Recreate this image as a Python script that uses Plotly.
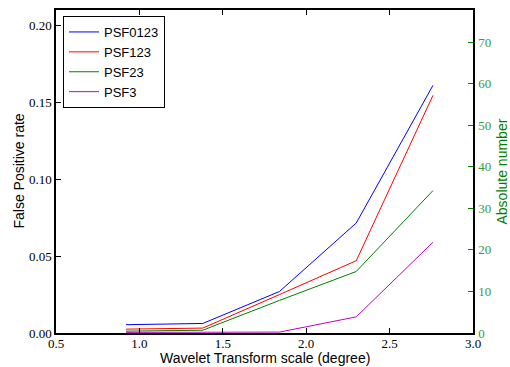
import plotly.graph_objects as go

scale = [0.92, 1.38, 1.84, 2.30, 2.76]
series_names = ["PSF0123", "PSF123", "PSF23", "PSF3"]
psf0123 = [0.0054, 0.0062, 0.0270, 0.0715, 0.1610]
psf123 = [0.0025, 0.0032, 0.0250, 0.0470, 0.1545]
psf23 = [0.0012, 0.0018, 0.0212, 0.0400, 0.0926]
psf3 = [0.0004, 0.0004, 0.0006, 0.0105, 0.0590]
colors = ["#0000ff", "#ff0000", "#008000", "#bf00bf"]

left_ticks = [0.00, 0.05, 0.10, 0.15, 0.20]
right_ticks = [0, 10, 20, 30, 40, 50, 60, 70]
x_ticks = [0.5, 1.0, 1.5, 2.0, 2.5, 3.0]
ratio = 370.0
ymax = 0.21

W, H = 510, 367
ML, MR, MT, MB = 56, 37, 10, 34
PW, PH = W - ML - MR, H - MT - MB

fig = go.Figure()
for name, vals, c in zip(series_names, [psf0123, psf123, psf23, psf3], colors):
    fig.add_trace(go.Scatter(x=scale, y=vals, mode="lines", name=name,
                             line=dict(color=c, width=1)))
fig.add_trace(go.Scatter(x=[scale[0]], y=[0], yaxis="y2", mode="markers",
                         marker=dict(opacity=0), showlegend=False, hoverinfo="skip"))

serif = "Liberation Serif"
sans = "Liberation Sans"


def px_x(p):
    return (p - ML) / PW


def px_y(p):
    return (H - MB - p) / PH


fig.update_layout(
    width=W, height=H,
    margin=dict(l=ML, r=MR, t=MT, b=MB, autoexpand=False),
    paper_bgcolor="white", plot_bgcolor="white",
    font=dict(family=sans, size=13, color="black"),
    xaxis=dict(range=[0.5, 3.0], tickvals=x_ticks, ticktext=[f"{v:.1f}" for v in x_ticks],
               showgrid=False, zeroline=False, showline=True, linecolor="black", linewidth=1.5,
               mirror="ticks", ticks="inside", ticklen=5, tickcolor="black", automargin=False,
               ticklabelstandoff=-2,
               tickfont=dict(family=serif, size=13)),
    yaxis=dict(range=[0, ymax], tickvals=left_ticks, ticktext=[f"{v:.2f}" for v in left_ticks],
               showgrid=False, zeroline=False, showline=True, linecolor="black", linewidth=1.5,
               ticks="inside", ticklen=5, tickcolor="black", automargin=False,
               ticklabelstandoff=0,
               tickfont=dict(family=serif, size=13)),
    yaxis2=dict(range=[0, ymax * ratio], tickvals=right_ticks, overlaying="y", side="right",
                showgrid=False, zeroline=False, showline=True, linecolor="black", linewidth=1.5,
                ticks="inside", ticklen=5, tickcolor="#008000", automargin=False,
                ticklabelstandoff=1,
                tickfont=dict(family=serif, size=13, color="#3a9a3a")),
    legend=dict(x=px_x(63), y=px_y(16), xanchor="left", yanchor="top",
                bordercolor="black", borderwidth=1, bgcolor="white",
                font=dict(family=sans, size=13), tracegroupgap=0),
    showlegend=True,
    annotations=[
        dict(text="Wavelet Transform scale (degree)", xref="paper", yref="paper",
             x=0.5, y=px_y(358), xanchor="center", yanchor="middle", showarrow=False,
             font=dict(family=sans, size=14, color="black")),
        dict(text="False Positive rate", xref="paper", yref="paper",
             x=px_x(18), y=0.5, xanchor="center", yanchor="middle", showarrow=False,
             textangle=-90, font=dict(family=sans, size=14, color="black")),
        dict(text="Absolute number", xref="paper", yref="paper",
             x=px_x(501), y=0.5, xanchor="center", yanchor="middle", showarrow=False,
             textangle=-90, font=dict(family=sans, size=14, color="#008000")),
    ],
)

fig.write_html("out.html", config={"displayModeBar": False},
               post_script="document.body.style.margin='0';document.body.style.padding='0';")
